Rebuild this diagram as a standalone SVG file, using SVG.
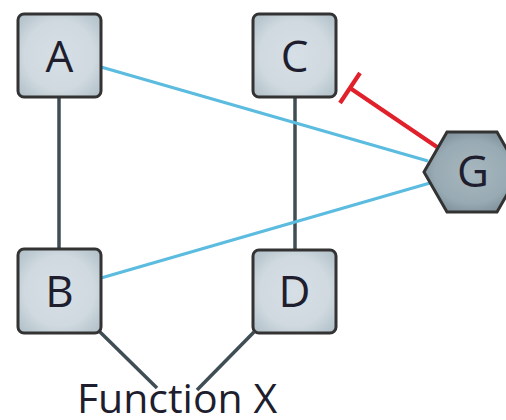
<svg xmlns="http://www.w3.org/2000/svg" width="506" height="420" viewBox="0 0 506 420">
<defs>
<radialGradient id="boxg" cx="0.5" cy="0.5" r="0.7">
<stop offset="0" stop-color="#d6dfe5"/>
<stop offset="0.6" stop-color="#cfd9df"/>
<stop offset="1" stop-color="#aebdc6"/>
</radialGradient>
<radialGradient id="hexg" cx="0.5" cy="0.5" r="0.65">
<stop offset="0" stop-color="#a7b7bf"/>
<stop offset="0.6" stop-color="#98aab3"/>
<stop offset="1" stop-color="#6f838d"/>
</radialGradient>
<style>
.box{fill:url(#boxg);stroke:#333;stroke-width:3}
.hex{fill:url(#hexg);stroke:#333;stroke-width:3}
.lbl{font-family:"Open Sans","Noto Sans","Liberation Sans",sans-serif;font-size:44px;fill:#1e1e2e;text-anchor:middle}
.dark{stroke:#3f4d55;stroke-width:3.5;fill:none}
.blue{stroke:#5bbce0;stroke-width:3.2;fill:none}
.red{stroke:#e0202a;stroke-width:4.2;fill:none}
.cap{font-family:"Open Sans","Noto Sans","Liberation Sans",sans-serif;font-size:41px;fill:#1e1e2e;text-anchor:middle}
</style>
</defs>
<g id="connectors">
<line class="dark" x1="59" y1="97" x2="59" y2="249"/>
<line class="dark" x1="295" y1="97" x2="295" y2="250"/>
<line class="blue" x1="101" y1="67" x2="428" y2="161"/>
<line class="blue" x1="101" y1="278" x2="430" y2="183"/>
<line class="red" x1="437" y1="147" x2="350" y2="88"/>
<line class="red" x1="340" y1="103" x2="360" y2="73"/>
<line class="dark" x1="99" y1="331" x2="157" y2="388"/>
<line class="dark" x1="254" y1="332" x2="197" y2="390"/>
</g>
<g id="A">
<rect class="box" x="18" y="14" width="83" height="83" rx="6"/>
<text class="lbl" x="59.5" y="72">A</text>
</g>
<g id="C">
<rect class="box" x="253" y="14" width="83" height="83" rx="6"/>
<text class="lbl" x="294.5" y="72">C</text>
</g>
<g id="B">
<rect class="box" x="18" y="249" width="83" height="84" rx="6"/>
<text class="lbl" x="59.5" y="307">B</text>
</g>
<g id="D">
<rect class="box" x="253" y="250" width="83" height="83" rx="6"/>
<text class="lbl" x="294.5" y="307">D</text>
</g>
<g id="G">
<polygon class="hex" points="424,172 447,132 497,132 520,172 497,212 447,212"/>
<text class="lbl" x="473" y="187">G</text>
</g>
<g id="FunctionX">
<text class="cap" x="177" y="413">Function X</text>
</g>
</svg>
